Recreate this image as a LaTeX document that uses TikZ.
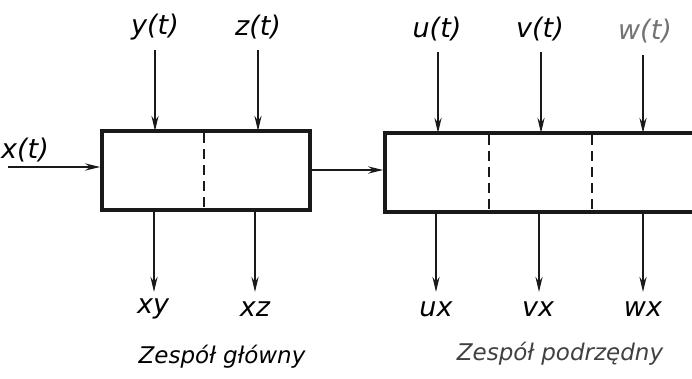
\documentclass[tikz,border=0pt]{standalone}
\usepackage{fontspec}
\setmainfont{DejaVu Sans}
\usetikzlibrary{arrows.meta}
\begin{document}
\begin{tikzpicture}[x=1pt,y=-1pt,
  ink/.style={draw=black!90},
  blockbox/.style={ink, line width=3.4pt, rectangle, inner sep=0pt},
  divider/.style={ink, line width=2.4pt, dash pattern=on 10pt off 6pt},
  sig/.style={ink, line width=2.4pt, -{Stealth[length=15pt,width=7pt]}},
  lbl/.style={font=\itshape\fontsize{27}{30}\selectfont, inner sep=2pt},
  captiontext/.style={font=\itshape\fontsize{23}{26}\selectfont, inner sep=1pt}]
\useasboundingbox (0,0) rectangle (692,379);
\clip (0,0) rectangle (692,379);

% main block (two sections)
\node[blockbox, minimum width=208pt, minimum height=79pt] (A) at (206,170.5) {};
% subordinate block (continues past the right edge)
\node[blockbox, minimum width=340pt, minimum height=79pt] (B) at (555,172.5) {};

% section dividers
\draw[divider] (204,133) -- (204,210);
\draw[divider] (489,135) -- (489,212);
\draw[divider] (592,135) -- (592,212);

% input x(t)
\node[lbl, anchor=east] (xin) at (51,150) {x(t)};
\coordinate (xstart) at (8,167);
\draw[sig] (xstart) -- (xstart -| A.west);

% inputs of the main block
\node[lbl] (yin) at (155,27) {y(t)};
\node[lbl] (zin) at (258,27) {z(t)};
\draw[sig] (155,50) -- (155,131);
\draw[sig] (258,50) -- (258,131);

% link between the blocks
\coordinate (link) at (A.east |- 0,170);
\draw[sig] (link) -- (link -| B.west);

% inputs of the subordinate block
\node[lbl] (uin) at (437,29) {u(t)};
\node[lbl] (vin) at (540,29) {v(t)};
\node[lbl, text=black!55] (win) at (645,31) {w(t)};
\draw[sig] (438,52) -- (438,133);
\draw[sig] (541,52) -- (541,133);
\draw[sig] (643,55) -- (643,133);

% outputs of the main block
\node[lbl] (xy) at (153,309) {xy};
\node[lbl] (xz) at (255,309) {xz};
\draw[sig] (154,210) -- (154,292);
\draw[sig] (255,210) -- (255,292);

% outputs of the subordinate block
\node[lbl] (ux) at (436,309) {ux};
\node[lbl] (vx) at (538,309) {vx};
\node[lbl] (wx) at (643,309) {wx};
\draw[sig] (436,212) -- (436,292);
\draw[sig] (539,212) -- (539,292);
\draw[sig] (643,212) -- (643,292);

% captions
\node[captiontext] (capA) at (222,357) {Zespół główny};
\node[captiontext, text=black!75] (capB) at (560,354) {Zespół podrzędny};
\end{tikzpicture}
\end{document}
